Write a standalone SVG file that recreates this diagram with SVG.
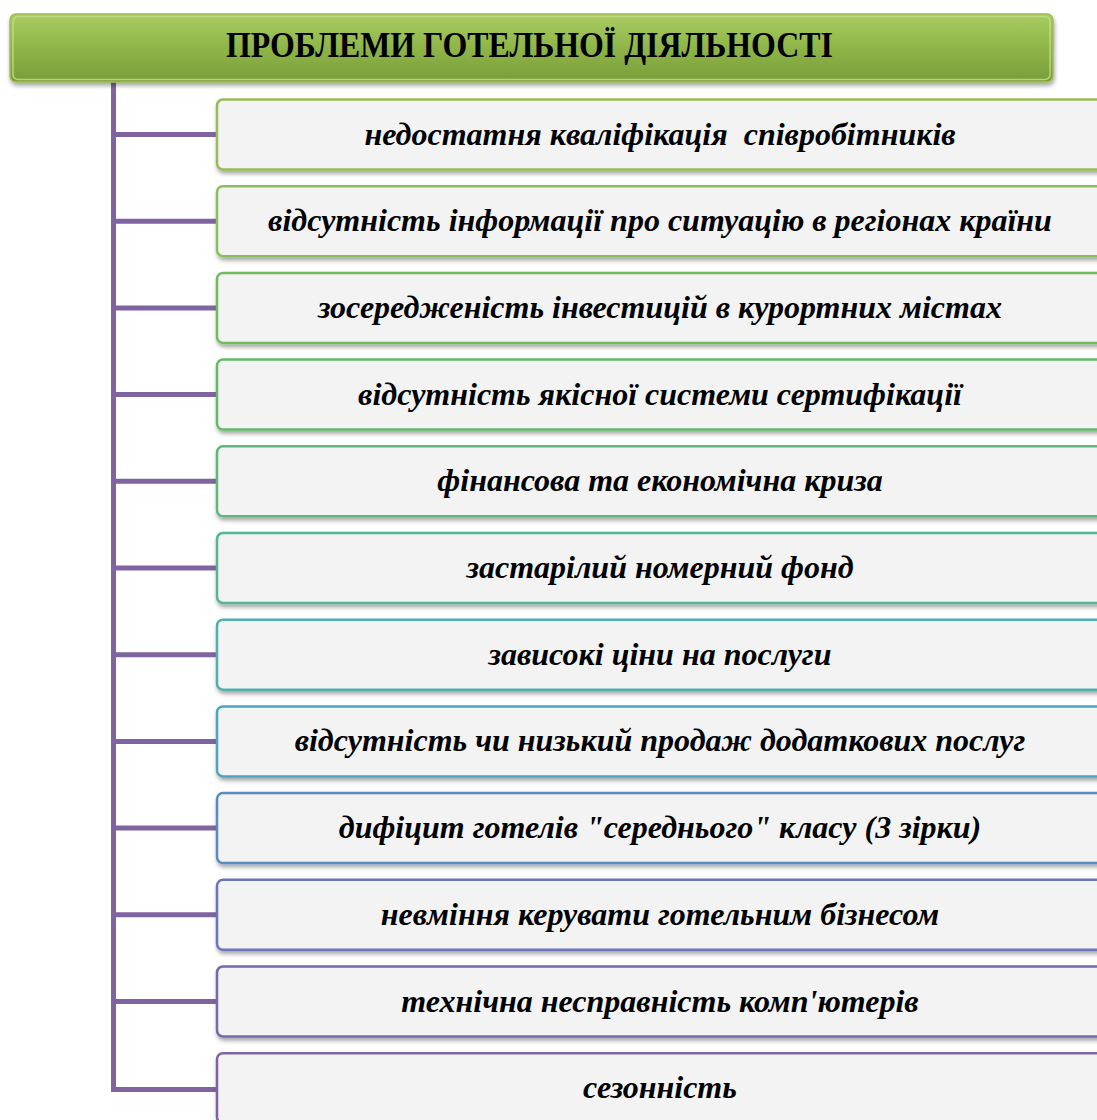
<svg xmlns="http://www.w3.org/2000/svg" width="1097" height="1120" viewBox="0 0 1097 1120">
<defs>
<linearGradient id="hg" x1="0" y1="0" x2="0" y2="1">
<stop offset="0" stop-color="#a9cc62"/>
<stop offset="0.5" stop-color="#8fb548"/>
<stop offset="1" stop-color="#7a9c3a"/>
</linearGradient>
<filter id="sh" x="-5%" y="-20%" width="110%" height="150%">
<feDropShadow dx="1" dy="3" stdDeviation="2" flood-color="#000" flood-opacity="0.35"/>
</filter>
</defs>
<style>
.box{fill:#f3f3f3;stroke-width:2.5;filter:url(#sh)}
.lbl{font-family:"Liberation Serif","Times New Roman",serif;font-weight:bold;font-style:italic;font-size:32px;fill:#000;text-anchor:middle}
.hdr{font-family:"Liberation Serif","Times New Roman",serif;font-weight:bold;font-size:36px;fill:#000;text-anchor:middle}
.con{stroke:#8064a2;stroke-width:5;fill:none}
</style>
<rect width="1097" height="1120" fill="#fff"/>
<g id="connectors">
<path class="con" d="M113.5,82 V1089.5 H217"/>
<path class="con" d="M113.5,134.5 H217 M113.5,221.2 H217 M113.5,307.9 H217 M113.5,394.6 H217 M113.5,481.3 H217 M113.5,568 H217 M113.5,654.7 H217 M113.5,741.4 H217 M113.5,828.1 H217 M113.5,914.8 H217 M113.5,1001.5 H217"/>
</g>
<g id="header">
<rect x="10" y="14" width="1043" height="68" rx="6" fill="url(#hg)" stroke="#9cbd55" stroke-width="1.5" filter="url(#sh)"/>
<rect x="13" y="16.5" width="1037" height="63" rx="5" fill="none" stroke="#c6e08e" stroke-width="1.5" opacity="0.8"/>
<text class="hdr" x="529.5" y="57" textLength="607" lengthAdjust="spacingAndGlyphs">ПРОБЛЕМИ ГОТЕЛЬНОЇ ДІЯЛЬНОСТІ</text>
</g>
<g id="n1"><rect class="box" x="217" y="99.5" width="890" height="70" rx="6" stroke="#9bbb59"/><text class="lbl" x="660" y="145" xml:space="preserve">недостатня кваліфікація  співробітників</text></g>
<g id="n2"><rect class="box" x="217" y="186.2" width="890" height="70" rx="6" stroke="#87bf5a"/><text class="lbl" x="660" y="231.2">відсутність інформації про ситуацію в регіонах країни</text></g>
<g id="n3"><rect class="box" x="217" y="272.9" width="890" height="70" rx="6" stroke="#72bc5e"/><text class="lbl" x="660" y="317.9">зосередженість інвестицій в курортних містах</text></g>
<g id="n4"><rect class="box" x="217" y="359.6" width="890" height="70" rx="6" stroke="#66b96b"/><text class="lbl" x="660" y="404.6">відсутність якісної системи сертифікації</text></g>
<g id="n5"><rect class="box" x="217" y="446.3" width="890" height="70" rx="6" stroke="#5cb87c"/><text class="lbl" x="660" y="491.3">фінансова та економічна криза</text></g>
<g id="n6"><rect class="box" x="217" y="533" width="890" height="70" rx="6" stroke="#55b594"/><text class="lbl" x="660" y="578">застарілий номерний фонд</text></g>
<g id="n7"><rect class="box" x="217" y="619.7" width="890" height="70" rx="6" stroke="#50b0ad"/><text class="lbl" x="660" y="664.7">зависокі ціни на послуги</text></g>
<g id="n8"><rect class="box" x="217" y="706.4" width="890" height="70" rx="6" stroke="#4ea5c2"/><text class="lbl" x="660" y="751.4">відсутність чи низький продаж додаткових послуг</text></g>
<g id="n9"><rect class="box" x="217" y="793.1" width="890" height="70" rx="6" stroke="#5a8bc0"/><text class="lbl" x="660" y="838.1">дифіцит готелів "середнього" класу (3 зірки)</text></g>
<g id="n10"><rect class="box" x="217" y="879.8" width="890" height="70" rx="6" stroke="#6a76b8"/><text class="lbl" x="660" y="924.8">невміння керувати готельним бізнесом</text></g>
<g id="n11"><rect class="box" x="217" y="966.5" width="890" height="70" rx="6" stroke="#7868ac"/><text class="lbl" x="660" y="1011.5">технічна несправність комп'ютерів</text></g>
<g id="n12"><rect class="box" x="217" y="1053.2" width="890" height="70" rx="6" stroke="#8064a2"/><text class="lbl" x="660" y="1098.2">сезонність</text></g>
</svg>
